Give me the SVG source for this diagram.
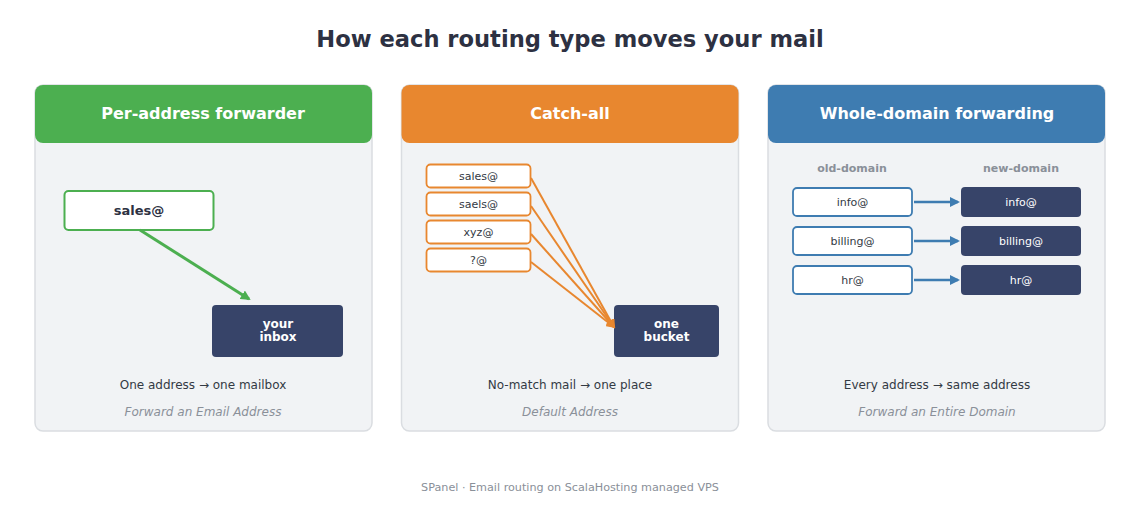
<svg xmlns="http://www.w3.org/2000/svg" width="1140" height="509" viewBox="0 0 1140 509">
<style>
text{font-family:"DejaVu Sans","Liberation Sans",sans-serif;}
.title{font-size:22.6px;font-weight:bold;fill:#2d3142;}
.hdr{font-size:16px;font-weight:bold;fill:#ffffff;}
.panel{fill:#f1f3f5;stroke:#dadde1;stroke-width:1.5;}
.cap{font-size:12px;fill:#333a44;}
.sub{font-size:12px;font-style:italic;fill:#8a9099;}
.dark{fill:#374469;}
.dtxt{font-size:12px;font-weight:bold;fill:#ffffff;}
.small{font-size:11px;fill:#333a44;}
.smallw{font-size:11px;fill:#ffffff;}
.col{font-size:11px;font-weight:bold;fill:#8a9099;}
.foot{font-size:11.2px;fill:#8a9099;}
</style>
<defs>
<marker id="ag" markerWidth="10" markerHeight="10" refX="8" refY="5" orient="auto" markerUnits="userSpaceOnUse" viewBox="0 0 10 10"><path d="M0,0 L10,5 L0,10 z" fill="#4caf50"/></marker>
<marker id="ao" markerWidth="9" markerHeight="9" refX="8" refY="5" orient="auto" markerUnits="userSpaceOnUse" viewBox="0 0 10 10"><path d="M0,0 L10,5 L0,10 z" fill="#e8872f"/></marker>
<marker id="ab" markerWidth="10" markerHeight="10" refX="8" refY="5" orient="auto" markerUnits="userSpaceOnUse" viewBox="0 0 10 10"><path d="M0,0 L10,5 L0,10 z" fill="#3e7cb1"/></marker>
</defs>
<rect width="1140" height="509" fill="#ffffff"/>
<text class="title" x="570" y="47" text-anchor="middle">How each routing type moves your mail</text>

<g id="panel-forwarder">
<rect class="panel" x="35" y="85" width="337" height="346" rx="8"/>
<rect x="35" y="85" width="337" height="58" rx="8" fill="#4caf50"/>
<text class="hdr" x="203" y="119" text-anchor="middle">Per-address forwarder</text>
<text class="cap" x="203" y="389" text-anchor="middle">One address → one mailbox</text>
<text class="sub" x="203" y="416" text-anchor="middle">Forward an Email Address</text>
</g>
<g id="node-sales">
<rect x="64.5" y="191" width="149" height="39" rx="4" fill="#ffffff" stroke="#4caf50" stroke-width="2"/>
<text x="139" y="215" text-anchor="middle" font-size="13" font-weight="bold" fill="#2d3142">sales@</text>
</g>
<g id="node-inbox">
<rect class="dark" x="212" y="305" width="131" height="52" rx="4"/>
<text class="dtxt" x="278" y="328" text-anchor="middle">your</text>
<text class="dtxt" x="278" y="341" text-anchor="middle">inbox</text>
</g>

<g id="panel-catchall">
<rect class="panel" x="401.5" y="85" width="337" height="346" rx="8"/>
<rect x="401.5" y="85" width="337" height="58" rx="8" fill="#e8872f"/>
<text class="hdr" x="570" y="119" text-anchor="middle">Catch-all</text>
<text class="cap" x="570" y="389" text-anchor="middle">No-match mail → one place</text>
<text class="sub" x="570" y="416" text-anchor="middle">Default Address</text>
</g>
<g id="node-c-sales">
<rect x="426.5" y="164.5" width="104" height="23" rx="4" fill="#ffffff" stroke="#e8872f" stroke-width="1.8"/>
<text class="small" x="478.5" y="180" text-anchor="middle">sales@</text>
</g>
<g id="node-c-saels">
<rect x="426.5" y="192.5" width="104" height="23" rx="4" fill="#ffffff" stroke="#e8872f" stroke-width="1.8"/>
<text class="small" x="478.5" y="208" text-anchor="middle">saels@</text>
</g>
<g id="node-c-xyz">
<rect x="426.5" y="220.5" width="104" height="23" rx="4" fill="#ffffff" stroke="#e8872f" stroke-width="1.8"/>
<text class="small" x="478.5" y="236" text-anchor="middle">xyz@</text>
</g>
<g id="node-c-any">
<rect x="426.5" y="248.5" width="104" height="23" rx="4" fill="#ffffff" stroke="#e8872f" stroke-width="1.8"/>
<text class="small" x="478.5" y="264" text-anchor="middle">?@</text>
</g>
<g id="node-bucket">
<rect class="dark" x="614" y="305" width="105" height="52" rx="4"/>
<text class="dtxt" x="666.5" y="328" text-anchor="middle">one</text>
<text class="dtxt" x="666.5" y="341" text-anchor="middle">bucket</text>
</g>

<g id="panel-domain">
<rect class="panel" x="768" y="85" width="337" height="346" rx="8"/>
<rect x="768" y="85" width="337" height="58" rx="8" fill="#3e7cb1"/>
<text class="hdr" x="937" y="119" text-anchor="middle">Whole-domain forwarding</text>
<text class="col" x="852" y="172" text-anchor="middle">old-domain</text>
<text class="col" x="1021" y="172" text-anchor="middle">new-domain</text>
<text class="cap" x="937" y="389" text-anchor="middle">Every address → same address</text>
<text class="sub" x="937" y="416" text-anchor="middle">Forward an Entire Domain</text>
</g>
<g id="node-old-info">
<rect x="793" y="188" width="119" height="28" rx="4" fill="#ffffff" stroke="#3e7cb1" stroke-width="1.8"/>
<text class="small" x="852.5" y="206" text-anchor="middle">info@</text>
</g>
<g id="node-old-billing">
<rect x="793" y="227" width="119" height="28" rx="4" fill="#ffffff" stroke="#3e7cb1" stroke-width="1.8"/>
<text class="small" x="852.5" y="245" text-anchor="middle">billing@</text>
</g>
<g id="node-old-hr">
<rect x="793" y="266" width="119" height="28" rx="4" fill="#ffffff" stroke="#3e7cb1" stroke-width="1.8"/>
<text class="small" x="852.5" y="284" text-anchor="middle">hr@</text>
</g>
<g id="node-new-info">
<rect class="dark" x="961" y="187" width="120" height="30" rx="4"/>
<text class="smallw" x="1021" y="206" text-anchor="middle">info@</text>
</g>
<g id="node-new-billing">
<rect class="dark" x="961" y="226" width="120" height="30" rx="4"/>
<text class="smallw" x="1021" y="245" text-anchor="middle">billing@</text>
</g>
<g id="node-new-hr">
<rect class="dark" x="961" y="265" width="120" height="30" rx="4"/>
<text class="smallw" x="1021" y="284" text-anchor="middle">hr@</text>
</g>

<g id="connectors" fill="none">
<line x1="140" y1="230" x2="249" y2="299" stroke="#4caf50" stroke-width="3" marker-end="url(#ag)"/>
<line x1="531" y1="178" x2="614" y2="327" stroke="#e8872f" stroke-width="2" marker-end="url(#ao)"/>
<line x1="531" y1="206" x2="614" y2="327" stroke="#e8872f" stroke-width="2" marker-end="url(#ao)"/>
<line x1="531" y1="234" x2="614" y2="327" stroke="#e8872f" stroke-width="2" marker-end="url(#ao)"/>
<line x1="531" y1="262" x2="614" y2="327" stroke="#e8872f" stroke-width="2" marker-end="url(#ao)"/>
<line x1="914" y1="202" x2="958" y2="202" stroke="#3e7cb1" stroke-width="2.5" marker-end="url(#ab)"/>
<line x1="914" y1="241" x2="958" y2="241" stroke="#3e7cb1" stroke-width="2.5" marker-end="url(#ab)"/>
<line x1="914" y1="280" x2="958" y2="280" stroke="#3e7cb1" stroke-width="2.5" marker-end="url(#ab)"/>
</g>

<text class="foot" x="570" y="491" text-anchor="middle">SPanel · Email routing on ScalaHosting managed VPS</text>
</svg>
